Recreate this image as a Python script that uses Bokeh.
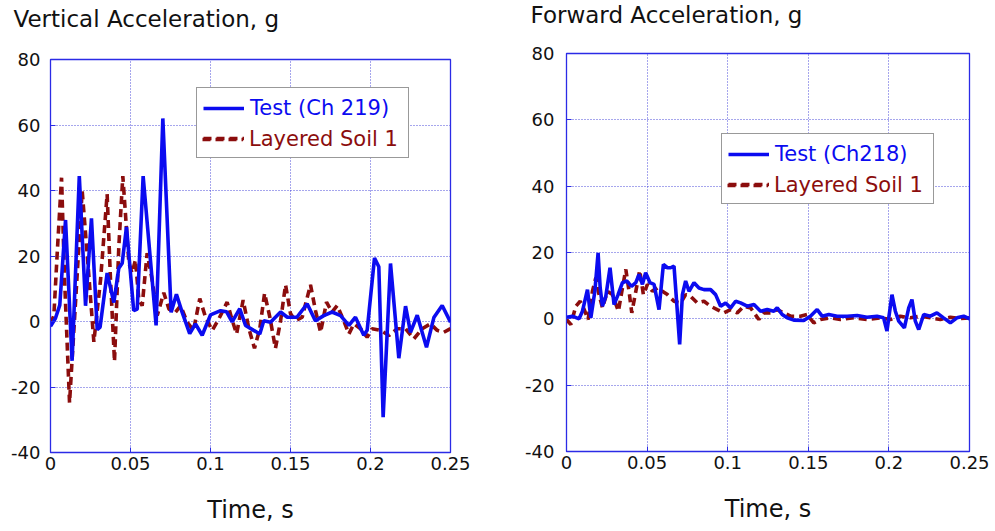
from bokeh.plotting import figure
from bokeh.models import FixedTicker, Legend, LegendItem
from bokeh.layouts import row, column
from bokeh.embed import file_html
from bokeh.resources import INLINE

# ---------------- data ----------------
x_ticks = [0, 0.05, 0.1, 0.15, 0.2, 0.25]
x_tick_labels = ["0", "0.05", "0.1", "0.15", "0.2", "0.25"]
y_ticks = [-40, -20, 0, 20, 40, 60, 80]
y_tick_labels = ["-40", "-20", "0", "20", "40", "60", "80"]

vert_title = "Vertical Acceleration, g"
fwd_title = "Forward Acceleration, g"
x_label = "Time, s"
vert_test_name = "Test (Ch 219)"
fwd_test_name = "Test (Ch218)"
soil_name = "Layered Soil 1"

vert_test_t = [0, 0.0031, 0.0058, 0.0094, 0.0135, 0.018, 0.0219, 0.0256, 0.0292, 0.031,
               0.0354, 0.0396, 0.0427, 0.0448, 0.0475, 0.052, 0.0542, 0.0579, 0.066, 0.0702,
               0.0754, 0.0787, 0.0823, 0.087, 0.0906, 0.0948, 0.1, 0.1063, 0.110, 0.1135,
               0.1183, 0.1219, 0.127, 0.1308, 0.1333, 0.1375, 0.1438, 0.148, 0.154, 0.1604,
               0.1656, 0.1708, 0.176, 0.1813, 0.1865, 0.1906, 0.1958, 0.1979, 0.2025, 0.2052,
               0.2079, 0.2125, 0.2177, 0.2219, 0.225, 0.2292, 0.235, 0.2396, 0.2448, 0.25]
vert_test_g = [-1.5, 1.0, 5.0, 31.0, -12.0, 44.4, 4.8, 31.5, -2.5, -1.7,
               14.8, 5.8, 16.3, 17.8, 28.9, 3.3, 3.8, 44.4, -1.2, 62.0,
               2.8, 8.3, 2.8, -3.7, -0.7, -4.2, 2.0, 3.3, 3.0, -0.1,
               3.9, -1.2, -2.7, -3.8, 0.2, -0.2, 2.9, 1.3, 1.3, 5.4,
               0.2, 1.8, 2.9, 1.8, -1.2, 1.3, -4.2, -2.7, 19.4, 16.7,
               -29.2, 17.7, -11.2, 4.7, -3.3, 1.9, -7.9, 1.2, 4.9, -0.2]

vert_soil_t = [0, 0.0021, 0.0042, 0.0069, 0.0088, 0.0119, 0.0198, 0.024, 0.0271, 0.0313,
               0.0354, 0.0375, 0.04, 0.0427, 0.0452, 0.049, 0.051, 0.0531, 0.0552, 0.0573,
               0.0604, 0.0635, 0.0667, 0.0708, 0.074, 0.0781, 0.0813, 0.0854, 0.0894, 0.0933,
               0.0969, 0.1011, 0.1052, 0.1104, 0.1135, 0.1163, 0.1204, 0.124, 0.1275, 0.1308,
               0.1338, 0.1371, 0.1406, 0.1438, 0.1469, 0.15, 0.1531, 0.1573, 0.1625, 0.1656,
               0.1688, 0.1725, 0.176, 0.1792, 0.1833, 0.1865, 0.1896, 0.1938, 0.1979, 0.201,
               0.2063, 0.2115, 0.2167, 0.2219, 0.2271, 0.2323, 0.2375, 0.2417, 0.2458, 0.25]
vert_soil_g = [-0.7, 1.8, 20.9, 43.9, 12.8, -24.8, 39.9, 13.8, -6.2, 12.8,
               38.9, 12.8, -12.2, 22.9, 44.4, 17.8, 14.8, 18.8, 6.8, 4.8,
               20.9, 12.8, 1.8, 8.8, 3.8, 2.8, 4.8, -0.2, -2.7, 7.0,
               1.3, -2.7, 0.8, 5.9, 0.5, -3.8, 6.5, -2.2, -8.2, -2.2,
               8.6, 1.3, -8.2, 0.2, 11.2, 2.4, 0.2, 1.3, 11.2, 3.4,
               -3.3, 5.9, 2.9, 4.9, 0.2, -3.8, -0.7, -2.2, -4.8, -2.2,
               -2.7, -4.3, -2.2, -2.2, -5.3, -2.2, -0.7, -2.7, -3.3, -2.2]

fwd_test_t = [0, 0.0037, 0.0078, 0.0099, 0.013, 0.0151, 0.0176, 0.0196, 0.0209, 0.0223,
              0.0244, 0.027, 0.0295, 0.032, 0.0347, 0.0374, 0.0403, 0.043, 0.045, 0.0471,
              0.0491, 0.0518, 0.0543, 0.0574, 0.0601, 0.0626, 0.0646, 0.0667, 0.0683, 0.0702,
              0.0719, 0.0739, 0.076, 0.0791, 0.0822, 0.0853, 0.0894, 0.0925, 0.0956, 0.0987,
              0.1018, 0.1049, 0.108, 0.1121, 0.1163, 0.1204, 0.1245, 0.1286, 0.1307, 0.1338,
              0.1369, 0.141, 0.1472, 0.1513, 0.1555, 0.1586, 0.1627, 0.1679, 0.1741, 0.1803,
              0.1864, 0.1926, 0.1967, 0.1988, 0.2019, 0.204, 0.2061, 0.2096, 0.2123, 0.2143,
              0.2164, 0.2185, 0.2216, 0.2257, 0.2298, 0.2339, 0.2381, 0.2422, 0.2464, 0.25]
fwd_test_g = [0.5, 0.8, 0.0, 2.3, 8.8, 0.3, 8.3, 19.9, 9.3, 3.8,
              6.8, 15.4, 4.3, 7.3, 10.9, 11.4, 9.8, 10.9, 13.4, 10.4,
              13.9, 10.9, 10.4, 2.8, 16.4, 15.4, 15.4, 15.9, 5.3, -7.7,
              7.3, 11.4, 8.3, 10.9, 9.3, 8.8, 8.8, 7.3, 3.8, 4.8,
              3.3, 5.3, 4.8, 3.8, 4.3, 2.3, 2.8, 2.3, 3.3, 1.3,
              0.3, -0.4, -0.5, 0.8, 2.8, 0.8, 1.3, 0.8, 0.8, 1.0,
              0.5, 0.8, 0.3, -3.7, 7.3, 2.3, -0.7, -2.7, 3.3, 5.8,
              -0.7, -3.2, 1.3, 0.8, 1.8, 0.3, -1.2, 0.3, 0.8, 0.0]

fwd_soil_t = [0, 0.0027, 0.0058, 0.0085, 0.011, 0.0134, 0.0161, 0.0182, 0.0202, 0.0223,
              0.0254, 0.0285, 0.0322, 0.0347, 0.0368, 0.0388, 0.0405, 0.043, 0.0454, 0.0477,
              0.0502, 0.0533, 0.0564, 0.0595, 0.0626, 0.0667, 0.0708, 0.0739, 0.077, 0.0811,
              0.0853, 0.0894, 0.0935, 0.0977, 0.1018, 0.1059, 0.11, 0.1142, 0.1193, 0.1224,
              0.1266, 0.1307, 0.1348, 0.1390, 0.1451, 0.1493, 0.1534, 0.1575, 0.1637, 0.1699,
              0.1782, 0.1864, 0.1947, 0.2009, 0.2071, 0.2133, 0.2195, 0.2257, 0.2319, 0.2381,
              0.2443, 0.25]
fwd_soil_g = [-0.2, -1.7, 3.8, 5.3, 2.8, -0.2, 8.3, 12.4, 7.3, 3.3,
              8.3, 7.3, 2.3, 9.3, 14.9, 8.3, 1.8, 8.3, 14.6, 7.3,
              10.4, 8.3, 9.3, 8.3, 7.3, 5.3, 4.8, 7.3, 6.8, 4.8,
              5.3, 3.8, 2.8, 1.8, 2.8, 1.8, 3.8, 3.3, -0.2, 1.8,
              1.8, 2.8, 1.8, 0.8, 0.8, 1.3, -1.2, -0.2, 0.3, -0.2,
              0.3, -0.2, 0.3, -0.2, 0.8, 0.3, 0.8, 0.3, -0.2, 0.5,
              0.1, 0.3]

# ---------------- style ----------------
FONT = "DejaVu Sans"
BLUE = "#0b0bf0"
RED = "#8b0d0d"
FRAME_BLUE = "#2b2be6"
GRID_BLUE = "#3a3ad8"


def make_panel(title, test_name, tt, tg, st, sg, width, mb_left, mb_right, mb_top, mb_bottom,
               title_offset, title_line_height, ylabel_standoff, legend_loc):
    p = figure(width=width, height=531, x_range=(0, 0.25), y_range=(-40, 80),
               output_backend="svg", toolbar_location=None,
               min_border_left=mb_left, min_border_right=mb_right,
               min_border_top=mb_top, min_border_bottom=mb_bottom)
    # a second (empty) line lifts the title towards the top of the canvas
    p.title.text = title + "\n"
    p.title.align = "left"
    p.title.vertical_align = "top"
    p.title.text_font = FONT
    p.title.text_font_size = "23px"
    p.title.text_font_style = "normal"
    p.title.text_color = "#111111"
    p.title.text_line_height = title_line_height
    p.title.offset = title_offset
    p.title.standoff = 0

    p.outline_line_color = FRAME_BLUE
    p.outline_line_width = 1.3
    p.background_fill_color = "white"
    p.border_fill_color = "white"

    p.xaxis.ticker = FixedTicker(ticks=x_ticks)
    p.yaxis.ticker = FixedTicker(ticks=y_ticks)
    p.xaxis.major_label_overrides = {v: s for v, s in zip(x_ticks, x_tick_labels)}
    p.yaxis.major_label_overrides = {v: s for v, s in zip(y_ticks, y_tick_labels)}
    p.xaxis.axis_label = x_label
    for ax in (p.xaxis, p.yaxis):
        ax.axis_line_color = FRAME_BLUE
        ax.major_tick_line_color = FRAME_BLUE
        ax.major_tick_in = 5
        ax.major_tick_out = 0
        ax.minor_tick_line_color = None
        ax.major_label_text_font = FONT
        ax.major_label_text_font_size = "18px"
        ax.major_label_text_color = "#111111"
    p.xaxis.major_label_standoff = 4
    p.yaxis.major_label_standoff = ylabel_standoff
    p.xaxis.axis_label_text_font = FONT
    p.xaxis.axis_label_text_font_size = "24px"
    p.xaxis.axis_label_text_font_style = "normal"
    p.xaxis.axis_label_text_color = "#111111"
    p.xaxis.axis_label_standoff = 23

    p.xgrid.ticker = FixedTicker(ticks=x_ticks)
    p.ygrid.ticker = FixedTicker(ticks=y_ticks)
    for g in (p.xgrid, p.ygrid):
        g.grid_line_color = GRID_BLUE
        g.grid_line_dash = "1 2"
        g.grid_line_width = 1
        g.grid_line_alpha = 0.9

    r_soil = p.line(st, sg, line_color=RED, line_width=3.6, line_dash="8 5")
    r_test = p.line(tt, tg, line_color=BLUE, line_width=3.6)

    common = dict(location=legend_loc, label_text_font=FONT, label_text_font_size="21px",
                  glyph_width=41, glyph_height=20, label_standoff=6, label_height=27,
                  label_width=152, padding=6, spacing=3, margin=0)
    leg_a = Legend(items=[LegendItem(label=test_name, renderers=[r_test]),
                          LegendItem(label=" ", renderers=[r_soil])],
                   label_text_color=BLUE, border_line_color="#333333", border_line_width=1.5,
                   background_fill_color="white", background_fill_alpha=1.0, **common)
    leg_c = Legend(items=[LegendItem(label=soil_name, renderers=[r_soil])],
                   label_text_color=RED, border_line_alpha=0.0, background_fill_alpha=0.0,
                   **common)
    p.add_layout(leg_a)
    p.add_layout(leg_c)
    return p


p1 = make_panel(vert_title, vert_test_name, vert_test_t, vert_test_g, vert_soil_t, vert_soil_g,
                width=490, mb_left=50, mb_right=40, mb_top=59, mb_bottom=79,
                title_offset=-37, title_line_height=1.0, ylabel_standoff=10,
                legend_loc=(146, 294))
p2 = make_panel(fwd_title, fwd_test_name, fwd_test_t, fwd_test_g, fwd_soil_t, fwd_soil_g,
                width=505, mb_left=76, mb_right=26, mb_top=53, mb_bottom=80,
                title_offset=-36, title_line_height=0.93, ylabel_standoff=12,
                legend_loc=(155, 247))

layout = row(p1, column(p2))
open("out.html", "w").write(file_html(layout, INLINE))
